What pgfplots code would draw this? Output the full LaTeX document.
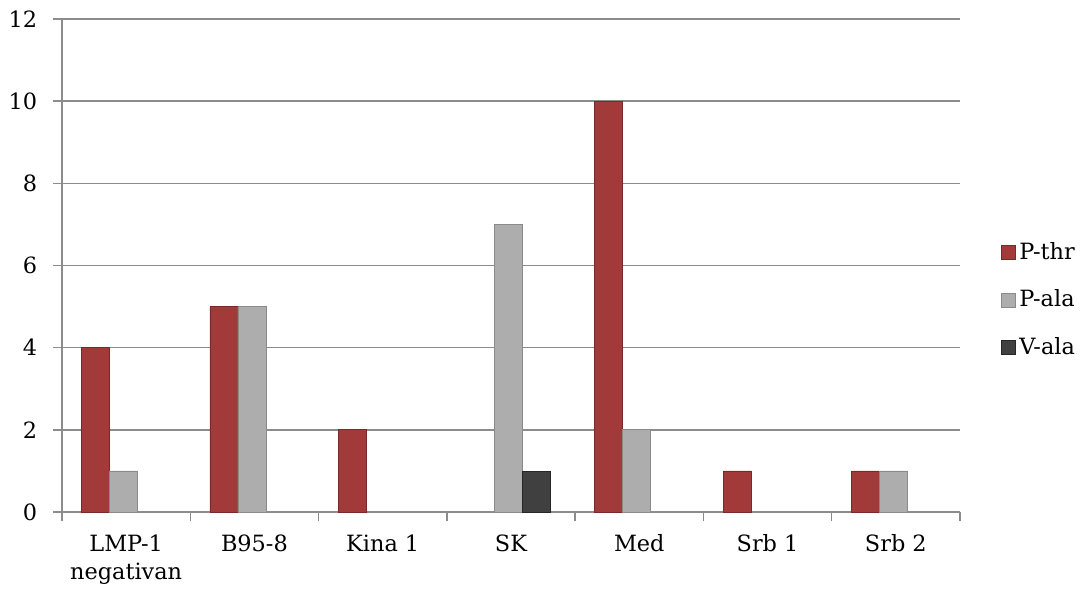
\documentclass[border=0pt]{standalone}
\usepackage{pgfplots}
\pgfplotsset{compat=1.18}
\usepackage{fontspec}
\setmainfont{DejaVu Serif}
\definecolor{cRed}{HTML}{A23A3A}
\definecolor{cRedE}{HTML}{7A2828}
\definecolor{cGray}{HTML}{ADADAD}
\definecolor{cGrayE}{HTML}{8A8A8A}
\definecolor{cDark}{HTML}{404040}
\definecolor{cDarkE}{HTML}{262626}
\definecolor{cGrid}{HTML}{8C8C8C}
\begin{document}
\fontsize{11.2}{13.5}\selectfont
\begin{tikzpicture}
\useasboundingbox (-31pt,-39pt) rectangle (511pt,256pt);
\begin{axis}[
  scale only axis,
  width=449pt, height=246.5pt,
  at={(0,0)}, anchor=south west,
  xmin=-0.5, xmax=6.5,
  ymin=0, ymax=12,
  ytick={0,2,...,12},
  xtick={0,...,6},
  xticklabels={{LMP-1\\negativan},{B95-8},{Kina 1},{SK},{Med},{Srb 1},{Srb 2}},
  minor xtick={-0.5,0.5,...,6.5},
  major x tick style={draw=none},
  minor tick length=4.5pt,
  major tick length=4.5pt,
  tick align=outside,
  tick style={cGrid, line width=0.75pt},
  axis x line*=bottom,
  axis y line*=left,
  axis line style={cGrid, line width=0.75pt, -},
  ymajorgrids,
  major grid style={cGrid, line width=0.75pt},
  xticklabel style={align=center, font=\fontsize{11.2}{14}\selectfont, yshift=-3pt},
  yticklabel style={xshift=-4pt},
  /pgf/number format/assume math mode=true,
  ybar=0pt, bar width=14pt,
  legend style={draw=none, at={(1.038,0.43)}, anchor=west, row sep=9.5pt, font=\fontsize{11.2}{13.5}\selectfont},
  legend cell align=left,
  legend image code/.code={\draw[#1] (0pt,-3.5pt) rectangle (7pt,3.5pt);},
]
\addplot[bar shift=-15.25pt, fill=cRed, draw=cRedE, line width=0.4pt] coordinates {(0,4) (1,5) (2,2) (4,10) (5,1) (6,1)};
\addplot[bar shift=-1.25pt, fill=cGray, draw=cGrayE, line width=0.4pt] coordinates {(0,1) (1,5) (3,7) (4,2) (6,1)};
\addplot[bar shift=12.75pt, fill=cDark, draw=cDarkE, line width=0.4pt] coordinates {(3,1)};
\legend{P-thr,P-ala,V-ala}
\end{axis}
\end{tikzpicture}
\end{document}
